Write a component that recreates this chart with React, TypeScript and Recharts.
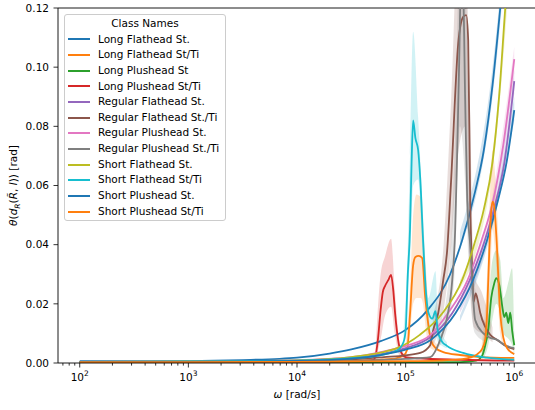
import React from "react";
import { ComposedChart, Line, Area, XAxis, YAxis, Legend, ReferenceLine } from "recharts";

const FONT = "'DejaVu Sans', sans-serif";

// points: [log10 ω, θ]  bands: [log10 ω, low, high]
const LONG_FLATHEAD_ST = [
  [2, 0.0006], [3, 0.0007], [3.5, 0.001], [3.84, 0.0014], [4, 0.0018], [4.3, 0.0032], [4.5, 0.0046],
  [4.77, 0.0074], [5, 0.0112], [5.2, 0.0178], [5.41, 0.03], [5.52, 0.0415], [5.64, 0.058], [5.72, 0.072],
  [5.8, 0.094], [5.871, 0.12], [6, 0.175],
];
const LONG_FLATHEAD_ST_BAND = [[5.5, 0.038, 0.044], [5.8, 0.09, 0.1], [6, 0.17, 0.18]];

const LONG_FLATHEAD_ST_TI = [
  [2, 0.0003], [3, 0.0003], [4, 0.0005], [4.5, 0.0008], [4.9, 0.0015], [4.98, 0.0025], [5.014, 0.0045],
  [5.041, 0.0169], [5.069, 0.033], [5.09, 0.0358], [5.12, 0.0362], [5.152, 0.0355], [5.18, 0.0223],
  [5.207, 0.0135], [5.235, 0.0075], [5.272, 0.0052], [5.346, 0.0037], [5.5, 0.0027], [5.69, 0.002], [6, 0.0017],
];
const LONG_FLATHEAD_ST_TI_BAND = [
  [5, 0.002, 0.006], [5.04, 0.01, 0.025], [5.069, 0.02, 0.05], [5.1, 0.022, 0.057], [5.14, 0.022, 0.056],
  [5.16, 0.02, 0.045], [5.19, 0.01, 0.03], [5.23, 0.005, 0.01], [5.3, 0.004, 0.006],
];

const LONG_PLUSHEAD_ST = [
  [2, 0.0002], [4, 0.0002], [5, 0.0002], [5.5, 0.0003], [5.65, 0.0008], [5.705, 0.0025], [5.733, 0.006],
  [5.76, 0.011], [5.788, 0.022], [5.816, 0.027], [5.834, 0.0287], [5.862, 0.0264], [5.89, 0.019],
  [5.908, 0.0155], [5.926, 0.017], [5.945, 0.0135], [5.963, 0.017], [5.982, 0.0105], [6, 0.006],
];
const LONG_PLUSHEAD_ST_BAND = [
  [5.7, 0.001, 0.004], [5.76, 0.006, 0.02], [5.8, 0.015, 0.035], [5.834, 0.02, 0.038], [5.87, 0.017, 0.035],
  [5.9, 0.01, 0.022], [5.95, 0.008, 0.028], [5.98, 0.006, 0.032], [6, 0.003, 0.01],
];

const LONG_PLUSHEAD_ST_TI = [
  [2, 0.0003], [3, 0.0003], [4, 0.0004], [4.5, 0.0006], [4.7, 0.001], [4.72, 0.002], [4.745, 0.008],
  [4.77, 0.018], [4.79, 0.024], [4.81, 0.026], [4.84, 0.028], [4.866, 0.0298], [4.885, 0.025],
  [4.905, 0.016], [4.93, 0.008], [4.96, 0.0035], [5, 0.002], [5.1, 0.0016], [5.5, 0.0011], [6, 0.0008],
];
const LONG_PLUSHEAD_ST_TI_BAND = [
  [4.72, 0.001, 0.003], [4.77, 0.008, 0.03], [4.81, 0.016, 0.036], [4.866, 0.019, 0.042], [4.9, 0.01, 0.025],
  [4.95, 0.002, 0.006], [5, 0.0015, 0.0025],
];

const REGULAR_FLATHEAD_ST = [
  [2, 0.0003], [3, 0.0004], [4, 0.0008], [4.5, 0.0017], [4.77, 0.003], [5, 0.005], [5.23, 0.0088],
  [5.43, 0.0169], [5.59, 0.028], [5.73, 0.0416], [5.82, 0.053], [5.91, 0.068], [6, 0.0953],
];
const REGULAR_FLATHEAD_ST_BAND = [[5.5, 0.017, 0.02], [5.8, 0.048, 0.053], [6, 0.091, 0.099]];

const REGULAR_FLATHEAD_ST_TI = [
  [2, 0.0003], [3, 0.0003], [4, 0.0006], [4.5, 0.0012], [4.8, 0.002], [5, 0.0026], [5.134, 0.0034],
  [5.226, 0.006], [5.253, 0.011], [5.3, 0.0169], [5.346, 0.028], [5.382, 0.038], [5.419, 0.062],
  [5.484, 0.108], [5.53, 0.117], [5.558, 0.1176], [5.576, 0.109], [5.594, 0.055], [5.613, 0.031],
  [5.625, 0.0206], [5.645, 0.0235], [5.665, 0.021], [5.687, 0.0169], [5.733, 0.0122], [5.779, 0.0095],
  [5.843, 0.0078], [5.935, 0.0054], [6, 0.0047],
];
const REGULAR_FLATHEAD_ST_TI_BAND = [
  [5.25, 0.006, 0.016], [5.35, 0.018, 0.04], [5.42, 0.04, 0.09], [5.48, 0.07, 0.14], [5.55, 0.08, 0.14],
  [5.59, 0.03, 0.09], [5.63, 0.012, 0.03], [5.7, 0.01, 0.024], [5.8, 0.007, 0.012],
];

const REGULAR_PLUSHEAD_ST = [
  [2, 0.0004], [3, 0.0005], [4, 0.001], [4.5, 0.002], [4.77, 0.0037], [5, 0.0058], [5.23, 0.0095],
  [5.39, 0.0169], [5.57, 0.028], [5.7, 0.0416], [5.8, 0.054], [5.9, 0.074], [6, 0.1027],
];
const REGULAR_PLUSHEAD_ST_BAND = [[5.5, 0.019, 0.021], [5.8, 0.052, 0.057], [6, 0.098, 0.107]];

const REGULAR_PLUSHEAD_ST_TI = [
  [2, 0.0002], [3, 0.0002], [4, 0.0004], [4.5, 0.0007], [5, 0.0014], [5.226, 0.002], [5.318, 0.0078],
  [5.382, 0.0155], [5.429, 0.028], [5.456, 0.045], [5.475, 0.072], [5.493, 0.102], [5.51, 0.13],
  [5.53, 0.125], [5.548, 0.089], [5.567, 0.055], [5.594, 0.04], [5.64, 0.0145], [5.714, 0.0101],
  [5.779, 0.0085], [5.843, 0.0078], [5.917, 0.006], [6, 0.005],
];
const REGULAR_PLUSHEAD_ST_TI_BAND = [
  [5.3, 0.005, 0.01], [5.4, 0.015, 0.03], [5.45, 0.03, 0.07], [5.5, 0.08, 0.14], [5.55, 0.06, 0.13],
  [5.59, 0.025, 0.06], [5.64, 0.01, 0.025], [5.75, 0.007, 0.013],
];

const SHORT_FLATHEAD_ST = [
  [2, 0.0004], [3, 0.0005], [4, 0.0009], [4.5, 0.002], [4.77, 0.0035], [4.92, 0.005], [5.13, 0.0095],
  [5.34, 0.0169], [5.52, 0.028], [5.63, 0.04], [5.72, 0.052], [5.8, 0.068], [5.86, 0.09], [5.917, 0.12],
  [6, 0.16],
];
const SHORT_FLATHEAD_ST_BAND = [[5.5, 0.025, 0.028], [5.8, 0.065, 0.071], [6, 0.155, 0.165]];

const SHORT_FLATHEAD_ST_TI = [
  [2, 0.0004], [3, 0.0005], [4, 0.0008], [4.5, 0.0016], [4.77, 0.0027], [4.92, 0.0042], [4.98, 0.007],
  [5, 0.011], [5.02, 0.03], [5.04, 0.045], [5.055, 0.068], [5.069, 0.082], [5.09, 0.076], [5.115, 0.072],
  [5.135, 0.062], [5.16, 0.042], [5.185, 0.025], [5.21, 0.017], [5.245, 0.015], [5.275, 0.0175],
  [5.295, 0.011], [5.33, 0.0075], [5.38, 0.0058], [5.53, 0.0034], [5.75, 0.0018], [6, 0.0011],
];
const SHORT_FLATHEAD_ST_TI_BAND = [
  [4.98, 0.004, 0.01], [5.02, 0.025, 0.04], [5.04, 0.035, 0.07], [5.069, 0.06, 0.112], [5.115, 0.062, 0.083],
  [5.16, 0.035, 0.05], [5.21, 0.01, 0.022], [5.275, 0.01, 0.031], [5.3, 0.007, 0.014], [5.38, 0.005, 0.007],
];

const SHORT_PLUSHEAD_ST = [
  [2, 0.0003], [3, 0.0004], [4, 0.0007], [4.5, 0.0015], [4.77, 0.0027], [5, 0.0045], [5.23, 0.0078],
  [5.46, 0.0169], [5.62, 0.028], [5.75, 0.0416], [5.85, 0.055], [5.93, 0.068], [6, 0.0855],
];
const SHORT_PLUSHEAD_ST_BAND = [[5.5, 0.014, 0.016], [5.8, 0.046, 0.05], [6, 0.082, 0.09]];

const SHORT_PLUSHEAD_ST_TI = [
  [2, 0.0003], [3, 0.0003], [4, 0.0004], [4.5, 0.0005], [5, 0.0006], [5.3, 0.0008], [5.5, 0.0012],
  [5.6, 0.0019], [5.66, 0.003], [5.7, 0.0045], [5.733, 0.008], [5.751, 0.018], [5.77, 0.038],
  [5.785, 0.05], [5.8, 0.0545], [5.815, 0.053], [5.835, 0.043], [5.87, 0.017], [5.9, 0.0085],
  [5.935, 0.005], [6, 0.003],
];
const SHORT_PLUSHEAD_ST_TI_BAND = [
  [5.7, 0.003, 0.006], [5.75, 0.01, 0.03], [5.78, 0.03, 0.06], [5.8, 0.045, 0.072], [5.83, 0.035, 0.06],
  [5.87, 0.01, 0.03], [5.9, 0.006, 0.012],
];

const SERIES = [
  { name: "Long Flathead St.", color: "#1f77b4", pts: LONG_FLATHEAD_ST, band: LONG_FLATHEAD_ST_BAND },
  { name: "Long Flathead St/Ti", color: "#ff7f0e", pts: LONG_FLATHEAD_ST_TI, band: LONG_FLATHEAD_ST_TI_BAND },
  { name: "Long Plushead St", color: "#2ca02c", pts: LONG_PLUSHEAD_ST, band: LONG_PLUSHEAD_ST_BAND },
  { name: "Long Plushead St/Ti", color: "#d62728", pts: LONG_PLUSHEAD_ST_TI, band: LONG_PLUSHEAD_ST_TI_BAND },
  { name: "Regular Flathead St.", color: "#9467bd", pts: REGULAR_FLATHEAD_ST, band: REGULAR_FLATHEAD_ST_BAND },
  { name: "Regular Flathead St./Ti", color: "#8c564b", pts: REGULAR_FLATHEAD_ST_TI, band: REGULAR_FLATHEAD_ST_TI_BAND },
  { name: "Regular Plushead St.", color: "#e377c2", pts: REGULAR_PLUSHEAD_ST, band: REGULAR_PLUSHEAD_ST_BAND },
  { name: "Regular Plushead St./Ti", color: "#7f7f7f", pts: REGULAR_PLUSHEAD_ST_TI, band: REGULAR_PLUSHEAD_ST_TI_BAND },
  { name: "Short Flathead St.", color: "#bcbd22", pts: SHORT_FLATHEAD_ST, band: SHORT_FLATHEAD_ST_BAND },
  { name: "Short Flathead St/Ti", color: "#17becf", pts: SHORT_FLATHEAD_ST_TI, band: SHORT_FLATHEAD_ST_TI_BAND },
  { name: "Short Plushead St.", color: "#1f77b4", pts: SHORT_PLUSHEAD_ST, band: SHORT_PLUSHEAD_ST_BAND },
  { name: "Short Plushead St/Ti", color: "#ff7f0e", pts: SHORT_PLUSHEAD_ST_TI, band: SHORT_PLUSHEAD_ST_TI_BAND },
];

const X_DOMAIN = [10 ** 1.8, 10 ** 6.2];
const X_MAJOR = [1e2, 1e3, 1e4, 1e5, 1e6];
const X_MULTS = [2, 3, 4, 5, 6, 7, 8, 9];
const X_TICKS = [1e1, ...X_MAJOR]
  .flatMap((d) => [d, ...X_MULTS.map((m) => m * d)])
  .filter((t) => t >= X_DOMAIN[0] && t <= X_DOMAIN[1]);
const Y_TICKS = [0, 0.02, 0.04, 0.06, 0.08, 0.1, 0.12];

const lineRows = (pts) => pts.map(([l, v]) => ({ w: 10 ** l, v }));
const bandRows = (band) => band.map(([l, lo, hi]) => ({ w: 10 ** l, range: [lo, hi] }));

function XTick({ x, y, payload }) {
  const v = payload.value;
  const major = X_MAJOR.includes(v);
  return (
    <g>
      <line x1={x} x2={x} y1={y} y2={y + (major ? 4.5 : 2.6)} stroke="#000" strokeWidth={0.8} />
      {major && (
        <text x={x} y={y + 18} textAnchor="middle" fontFamily={FONT} fontSize={10.5} fill="#000">
          10<tspan dy={-5} fontSize={7.5}>{Math.round(Math.log10(v))}</tspan>
        </text>
      )}
    </g>
  );
}

function YTick({ x, y, payload }) {
  return (
    <g>
      <line x1={x} x2={x - 4.5} y1={y} y2={y} stroke="#000" strokeWidth={0.8} />
      <text x={x - 9} y={y} dy="0.36em" textAnchor="end" fontFamily={FONT} fontSize={10.5} fill="#000">
        {payload.value.toFixed(2)}
      </text>
    </g>
  );
}

function YLabel({ viewBox }) {
  const cx = viewBox.x + 17;
  const cy = viewBox.y + viewBox.height / 2;
  return (
    <text transform={`translate(${cx},${cy}) rotate(-90)`} textAnchor="middle" fontFamily={FONT} fontSize={10.5} fill="#000">
      <tspan fontStyle="italic">θ</tspan>(<tspan fontStyle="italic">d</tspan>
      <tspan dy={2.5} fontSize={7.5} fontStyle="italic">R</tspan>
      <tspan dy={-2.5}>(</tspan>
      <tspan fontStyle="italic">{"R\u0303"}</tspan>
      <tspan>, </tspan>
      <tspan fontStyle="italic">I</tspan>
      <tspan>)) [rad]</tspan>
    </text>
  );
}

function XLabel({ viewBox }) {
  return (
    <text x={viewBox.x + viewBox.width / 2} y={viewBox.y + 35} textAnchor="middle" fontFamily={FONT} fontSize={10.5} fill="#000">
      <tspan fontStyle="italic">ω</tspan> [rad/s]
    </text>
  );
}

function LegendBox() {
  return (
    <div
      style={{
        boxSizing: "border-box",
        width: 162,
        height: 207,
        border: "1px solid #cccccc",
        borderRadius: 3,
        background: "rgba(255,255,255,0.8)",
        fontFamily: FONT,
        fontSize: 10.5,
        color: "#000",
        paddingTop: 0.9,
      }}
    >
      <div style={{ height: 15.67, lineHeight: "15.67px", textAlign: "center" }}>Class Names</div>
      {SERIES.map((s) => (
        <div key={s.name} style={{ height: 15.67, display: "flex", alignItems: "center" }}>
          <span style={{ width: 22, height: 2, background: s.color, marginLeft: 3, flex: "none" }} />
          <span style={{ marginLeft: 8, whiteSpace: "nowrap", lineHeight: "15.67px" }}>{s.name}</span>
        </div>
      ))}
    </div>
  );
}

export default function App() {
  return (
    <div style={{ width: 535, height: 410, overflow: "hidden", position: "relative", background: "#fff" }}>
      <style>{"body{margin:0}"}</style>
      <ComposedChart width={537} height={410} margin={{ top: 8, right: 1, bottom: 0, left: 0 }}>
        <XAxis
          dataKey="w"
          type="number"
          scale="log"
          domain={X_DOMAIN}
          allowDataOverflow
          ticks={X_TICKS}
          interval={0}
          height={47}
          tickSize={0}
          tickMargin={0}
          tickLine={false}
          tick={<XTick />}
          axisLine={{ stroke: "#000", strokeWidth: 0.9 }}
          label={XLabel}
        />
        <YAxis
          type="number"
          domain={[0, 0.12]}
          allowDataOverflow
          ticks={Y_TICKS}
          interval={0}
          width={58}
          tickSize={0}
          tickMargin={0}
          tickLine={false}
          tick={<YTick />}
          axisLine={{ stroke: "#000", strokeWidth: 0.9 }}
          label={YLabel}
        />
        <ReferenceLine y={0.12} stroke="#000" strokeWidth={0.9} />
        {SERIES.map((s) => (
          <Area
            key={"band-" + s.name}
            data={bandRows(s.band)}
            dataKey="range"
            type="monotone"
            stroke="none"
            fill={s.color}
            fillOpacity={0.2}
            dot={false}
            activeDot={false}
            isAnimationActive={false}
            legendType="none"
          />
        ))}
        {SERIES.map((s) => (
          <Line
            key={"line-" + s.name}
            data={lineRows(s.pts)}
            dataKey="v"
            name={s.name}
            type="monotone"
            stroke={s.color}
            strokeWidth={1.8}
            dot={false}
            activeDot={false}
            isAnimationActive={false}
          />
        ))}
        <Legend
          layout="vertical"
          align="center"
          verticalAlign="middle"
          wrapperStyle={{ left: 64, top: 14, width: 162, height: 207 }}
          content={() => <LegendBox />}
        />
      </ComposedChart>
    </div>
  );
}
